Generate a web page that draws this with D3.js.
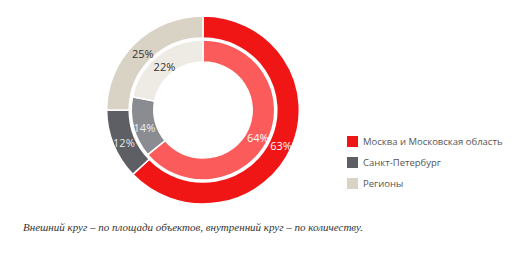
<!DOCTYPE html>
<html>
<head>
<meta charset="utf-8">
<script src="https://cdn.jsdelivr.net/npm/d3@7"></script>
<style>
  body { margin: 0; background: #fff; }
</style>
</head>
<body>
<svg id="chart" width="515" height="255"></svg>
<script>
// data
var categories = ["Москва и Московская область", "Санкт-Петербург", "Регионы"];
var outerValues = [63, 12, 25];   // по площади объектов
var innerValues = [64, 14, 22];   // по количеству
var caption = "Внешний круг – по площади объектов, внутренний круг – по количеству.";

var outerColors = ["#f01616", "#5e5f64", "#d9d3c6"];
var innerColors = ["#fb5b5b", "#8b8c91", "#eeebe5"];
var outerLabelColors = ["#ffffff", "#e8e8e8", "#333333"];
var innerLabelColors = ["#ffffff", "#eeeeee", "#333333"];

var svg = d3.select("#chart");
var cx = 203, cy = 110;

var pie = d3.pie().sort(null).value(function(d) { return d; });

var g = svg.append("g")
    .attr("transform", "translate(" + cx + "," + cy + ") scale(1.025,1)");

function drawRing(values, colors, labelColors, r0, r1, labelR) {
    var arc = d3.arc().innerRadius(r0).outerRadius(r1);
    var labelArc = d3.arc().innerRadius(labelR).outerRadius(labelR);
    var arcs = pie(values);

    g.append("g").selectAll("path")
        .data(arcs)
        .enter()
        .append("path")
        .attr("d", arc)
        .attr("fill", function(d, i) { return colors[i]; })
        .attr("stroke", "#fff")
        .attr("stroke-width", 1.5);

    g.append("g").selectAll("text")
        .data(arcs)
        .enter()
        .append("text")
        .attr("transform", function(d) {
            var c = labelArc.centroid(d);
            return "translate(" + c[0] + "," + (c[1] + 3) + ") scale(" + (1 / 1.025) + ",1)";
        })
        .attr("text-anchor", "middle")
        .attr("dy", "0.35em")
        .attr("font-family", "'Open Sans', sans-serif")
        .attr("font-size", 11)
        .attr("fill", function(d, i) { return labelColors[i]; })
        .text(function(d) { return d.data + "%"; });
}

drawRing(outerValues, outerColors, outerLabelColors, 72, 94, 83);
drawRing(innerValues, innerColors, innerLabelColors, 48, 70, 59);

// legend
var legend = svg.append("g").attr("transform", "translate(347,136)");
var item = legend.selectAll("g")
    .data(categories)
    .enter()
    .append("g")
    .attr("transform", function(d, i) { return "translate(0," + (i * 21) + ")"; });

item.append("rect")
    .attr("width", 11)
    .attr("height", 11)
    .attr("fill", function(d, i) { return outerColors[i]; });

item.append("text")
    .attr("x", 16)
    .attr("y", 6)
    .attr("dy", "0.35em")
    .attr("font-family", "'Open Sans', sans-serif")
    .attr("font-size", 9.5)
    .attr("fill", "#555")
    .text(function(d) { return d; });

// caption
svg.append("text")
    .attr("x", 23)
    .attr("y", 231)
    .attr("font-family", "'Liberation Serif', serif")
    .attr("font-style", "italic")
    .attr("font-size", 11)
    .attr("fill", "#333")
    .text(caption);
</script>
</body>
</html>
